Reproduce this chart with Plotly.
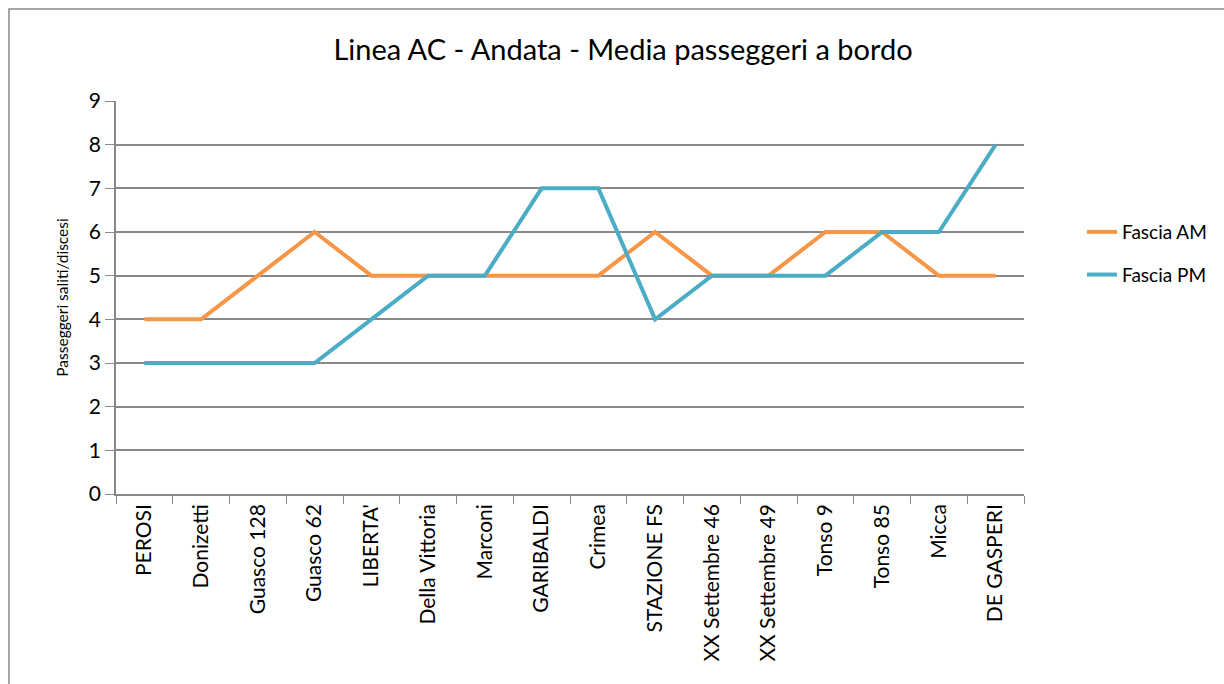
import plotly.graph_objects as go

stops = ["PEROSI", "Donizetti", "Guasco 128", "Guasco 62", "LIBERTA'", "Della Vittoria",
         "Marconi", "GARIBALDI", "Crimea", "STAZIONE FS", "XX Settembre 46",
         "XX Settembre 49", "Tonso 9", "Tonso 85", "Micca", "DE GASPERI"]
fascia_am = [4, 4, 5, 6, 5, 5, 5, 5, 5, 6, 5, 5, 6, 6, 5, 5]
fascia_pm = [3, 3, 3, 3, 4, 5, 5, 7, 7, 4, 5, 5, 5, 6, 6, 8]
y_ticks = [0, 1, 2, 3, 4, 5, 6, 7, 8, 9]

FONT = "Lato"
fig = go.Figure()
fig.add_trace(go.Scatter(x=stops, y=fascia_am, mode="lines", name="Fascia AM",
                         line=dict(color="#F79646", width=4), legendgroup="a"))
fig.add_trace(go.Scatter(x=stops, y=fascia_pm, mode="lines", name="Fascia PM",
                         line=dict(color="#4BACC6", width=4), legendgroup="b"))

L, R, T, B = 116, 1024, 101, 494
W, H = 1224, 684
def px(x):
    return (x - L) / (R - L)
def py(y):
    return (B - y) / (B - T)

fig.update_layout(
    width=W, height=H,
    margin=dict(l=L, r=W - R, t=T, b=H - B),
    paper_bgcolor="white", plot_bgcolor="white",
    font=dict(family=FONT, color="black"),
    title=dict(text="Linea AC - Andata - Media passeggeri a bordo",
               x=(623) / W, xanchor="center", y=1 - 50 / H, yanchor="middle",
               font=dict(size=29, family=FONT)),
    showlegend=True,
    legend=dict(x=px(1082), xanchor="left", y=py(213), yanchor="top",
                font=dict(size=19, family=FONT), traceorder="grouped",
                tracegroupgap=15, bgcolor="rgba(0,0,0,0)"),
    xaxis=dict(type="category", range=[-0.5, len(stops) - 0.5],
               tickangle=-90, tickfont=dict(size=21, family=FONT),
               ticks="outside", tickson="boundaries", ticklen=8, tickcolor="#888",
               showline=True, linecolor="#888", linewidth=1.5,
               showgrid=False, fixedrange=True),
    yaxis=dict(range=[0, 9], tickvals=y_ticks, tickfont=dict(size=21, family=FONT),
               ticks="outside", ticklen=9, tickcolor="#888",
               showline=True, linecolor="#888", linewidth=1.5,
               showgrid=True, gridcolor="#888", gridwidth=1.5,
               title=dict(text="Passeggeri saliti/discesi", font=dict(size=15.5, family=FONT),
                          standoff=16),
               zeroline=False, fixedrange=True),
    shapes=[dict(type="rect", xref="paper", yref="paper",
                 x0=px(9), x1=px(1240), y0=py(700), y1=py(9),
                 line=dict(color="#888", width=1.5), fillcolor="rgba(0,0,0,0)", layer="below")],
)

fig.write_html("out.html", config={"displayModeBar": False},
               post_script="document.body.style.margin='0';document.body.style.overflow='hidden';")
